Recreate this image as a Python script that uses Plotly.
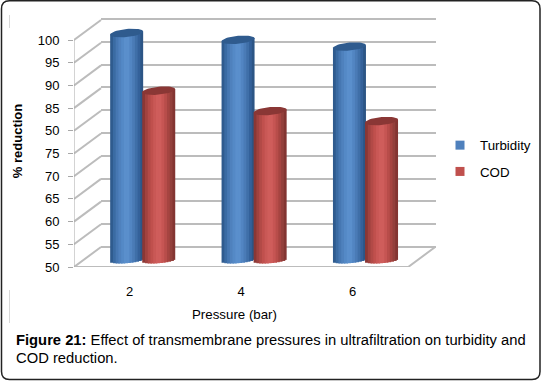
import math
import plotly.graph_objects as go

W, H = 542, 381
categories = ["2", "4", "6"]
turbidity = [100.0, 98.5, 97.0]
cod = [87.3, 82.8, 80.6]
y_ticks = [50, 55, 60, 65, 70, 75, 80, 85, 90, 95, 100]
# printed sequence on the source axis (bottom to top)
y_labels = ["50", "55", "60", "65", "70", "75", "50", "85", "90", "95", "100"]

BLUE = ["#2f5b8e", "#3a6ba3", "#4677b2", "#4f81bd", "#5489c6", "#5a8fcc", "#5a8fcc", "#5285c2", "#4a7bb6", "#3f6fa8", "#34619a", "#2c5585"]
RED = ["#8a3735", "#a0423f", "#b24a47", "#c0504d", "#c95856", "#cf5d5b", "#cf5d5b", "#c65553", "#b84d4a", "#a64441", "#93403c", "#833532"]

def fx(px): return px / W
def fy(px): return 1 - px / H

PX_X = 111.4            # pixels per category
PX_Y = 4.54             # pixels per value unit
FRONT_L, FRONT_B, TOP = 74, 267, 15
RIGHT = 437
DEPTH_X, DEPTH_Y = 27, 20
PLANE_X, PLANE_Y = 13, 7

x2_range = [-0.5, -0.5 + (RIGHT - FRONT_L) / PX_X]
y2_range = [50, 50 + (FRONT_B - TOP) / PX_Y]
x3_range = [x2_range[0] - PLANE_X / PX_X, x2_range[1] - PLANE_X / PX_X]
y3_range = [y2_range[0] - PLANE_Y / PX_Y, y2_range[1] - PLANE_Y / PX_Y]

fig = go.Figure()

fig.add_trace(go.Scatter(x=[0.5], y=[75], mode="markers", marker=dict(opacity=0), showlegend=False,
                         xaxis="x", yaxis="y", hoverinfo="skip"))

dx, dy = DEPTH_X / PX_X, DEPTH_Y / PX_Y
sx, sy = [], []
for t in y_ticks:
    sx += [-0.5, -0.5 + dx, None]
    sy += [t, t + dy, None]
sx += [-0.5, 2.5, 2.5 + dx]
sy += [50, 50, 50 + dy]
fig.add_trace(go.Scatter(x=sx, y=sy, mode="lines", line=dict(color="#bcbcbc", width=2),
                         showlegend=False, xaxis="x2", yaxis="y2", hoverinfo="skip", cliponaxis=False))
fig.add_trace(go.Scatter(x=[-0.5, -0.5], y=[50, 100], mode="lines", line=dict(color="#a8a8a8", width=1),
                         showlegend=False, xaxis="x2", yaxis="y2", hoverinfo="skip", cliponaxis=False))

BAR_W = 33 / PX_X
RY = 4 / PX_Y
TILT = 1.5 / PX_Y
N = 12

def cylinder(values, shift, colors):
    for i, v in enumerate(values):
        cx = i + shift
        for k in range(N):
            t = (k + 0.5) / N * 2 - 1
            bottom = 50 - RY * 0.8 * math.sqrt(1 - t * t) + TILT * t
            top = v + TILT * t
            w = BAR_W / N * (1.5 if k < N - 1 else 1.0)
            fig.add_trace(go.Bar(x=[i], y=[top - bottom], base=[bottom],
                                 width=w, offset=shift + (k / N - 0.5) * BAR_W,
                                 marker=dict(color=colors[k], line=dict(width=0)),
                                 showlegend=False, xaxis="x3", yaxis="y3", hoverinfo="skip"))
        ang = [a * 2 * math.pi / 48 for a in range(49)]
        ex = [cx + BAR_W / 2 * math.cos(a) for a in ang]
        ey = [v + TILT * math.cos(a) + RY * math.sin(a) for a in ang]
        fig.add_trace(go.Scatter(x=ex, y=ey, mode="lines", fill="toself", line=dict(width=0),
                                 fillcolor=colors[0], showlegend=False,
                                 xaxis="x3", yaxis="y3", hoverinfo="skip"))

cylinder(turbidity, -0.144, BLUE)
cylinder(cod, 0.144, RED)

fig.add_trace(go.Scatter(x=[None], y=[None], mode="markers", name="Turbidity", legendgroup="a",
                         marker=dict(symbol="square", size=9, color="#4f81bd"), xaxis="x3", yaxis="y3"))
fig.add_trace(go.Scatter(x=[None], y=[None], mode="markers", name="COD", legendgroup="b",
                         marker=dict(symbol="square", size=9, color="#c0504d"), xaxis="x3", yaxis="y3"))

x0, y0, x1, y1, r = fx(1.5), fy(379.5), fx(540), fy(0.8), 8
rx_, ry_ = r / W, r / H
frame = (f"M {x0+rx_} {y1} L {x1-rx_} {y1} Q {x1} {y1} {x1} {y1-ry_} L {x1} {y0+ry_} Q {x1} {y0} {x1-rx_} {y0} "
         f"L {x0+rx_} {y0} Q {x0} {y0} {x0} {y0+ry_} L {x0} {y1-ry_} Q {x0} {y1} {x0+rx_} {y1} Z")
shapes = [
    dict(type="path", path=frame, xref="paper", yref="paper", line=dict(color="#222222", width=1.5), layer="below"),
    dict(type="line", xref="paper", yref="paper", x0=fx(9.5), x1=fx(9.5), y0=fy(15), y1=fy(28), line=dict(color="#d8d8d8", width=1)),
    dict(type="line", xref="paper", yref="paper", x0=fx(9.5), x1=fx(9.5), y0=fy(290), y1=fy(323), line=dict(color="#d8d8d8", width=1)),
]

cap = dict(xref="paper", yref="paper", xanchor="left", yanchor="middle", showarrow=False, align="left",
           font=dict(family="Liberation Sans", size=14.75, color="#000000"))
annotations = [
    dict(x=fx(14), y=fy(340), text="<b>Figure 21:</b> Effect of transmembrane pressures in ultrafiltration on turbidity and", **cap),
    dict(x=fx(14), y=fy(358), text="COD reduction.", **cap),
    dict(x=fx(234), y=fy(314), text="Pressure (bar)", xref="paper", yref="paper", showarrow=False,
         xanchor="center", yanchor="middle", font=dict(family="Liberation Sans", size=13.3, color="#000000")),
]

font = dict(family="Liberation Sans", color="#000000", size=12)
hidden = dict(showgrid=False, zeroline=False, showline=False, showticklabels=False, ticks="", automargin=False)

fig.update_layout(
    width=W, height=H, margin=dict(l=0, r=0, t=0, b=0, autoexpand=False), autosize=False,
    paper_bgcolor="white", plot_bgcolor="rgba(0,0,0,0)", barmode="overlay", font=font,
    shapes=shapes, annotations=annotations,
    xaxis=dict(domain=[fx(101), fx(436)], range=[0, 1], anchor="y", **hidden),
    yaxis=dict(domain=[fy(249.3), fy(16.7)], range=[49.5, 100.5], anchor="x", tickmode="array", tickvals=y_ticks,
               showgrid=True, gridcolor="#bcbcbc", gridwidth=2, zeroline=False, showline=False,
               showticklabels=False, ticks="", automargin=False),
    xaxis2=dict(domain=[fx(FRONT_L), fx(RIGHT)], range=x2_range, anchor="y2", showgrid=False, zeroline=False,
                showline=False, tickmode="array", tickvals=[0, 1, 2], ticktext=categories, ticks="",
                ticklabelstandoff=15, tickfont=dict(size=13, color="#000000"), automargin=False),
    yaxis2=dict(domain=[fy(FRONT_B), fy(TOP)], range=y2_range, anchor="x2", showgrid=False, zeroline=False,
                showline=False, tickmode="array", tickvals=y_ticks, ticktext=y_labels, ticks="outside",
                ticklen=5, tickcolor="#a8a8a8", tickfont=dict(size=13, color="#000000"), automargin=False,
                ticklabelstandoff=6,
                title=dict(text="<b>% reduction</b>", font=dict(size=13, color="#000000"), standoff=12)),
    xaxis3=dict(overlaying="x2", range=x3_range, anchor="y3", **hidden),
    yaxis3=dict(overlaying="y2", range=y3_range, anchor="x3", **hidden),
    legend=dict(x=fx(450), y=fy(130), xanchor="left", yanchor="top", tracegroupgap=6, indentation=-10,
                bgcolor="rgba(0,0,0,0)", font=dict(size=13.3, color="#000000", family="Liberation Sans")),
)
fig.write_html("out.html", config={"displayModeBar": False, "responsive": False},
               post_script="document.body.style.margin='0';")
